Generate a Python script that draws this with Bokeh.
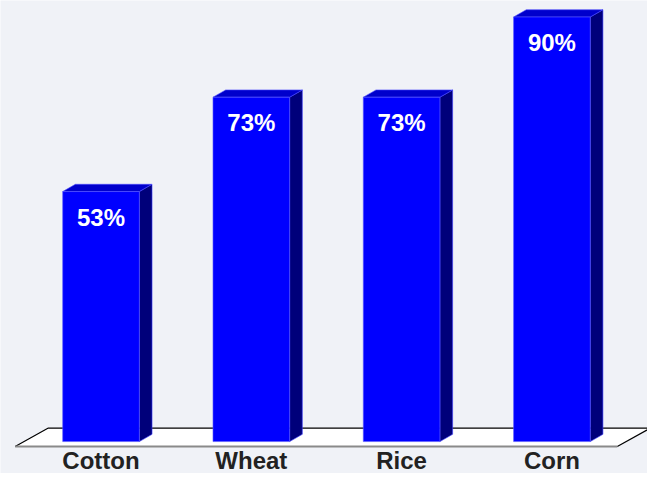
from bokeh.plotting import figure
from bokeh.models import Range1d, ColumnDataSource
from bokeh.embed import file_html
from bokeh.resources import INLINE
from bokeh.core.properties import value

# ---- data ----
categories = ["Cotton", "Wheat", "Rice", "Corn"]
values = [53, 73, 73, 90]
value_labels = ["53%", "73%", "73%", "90%"]

# ---- style / geometry ----
W, H = 647, 473
BAR_W = 0.51          # bar width in category units
DX = 0.0844           # 3D depth offset (x, category units)
DY = 1.54             # 3D depth offset (y, percent units)
BG = "#F0F2F7"
FRONT = "#0000FF"
TOP = "#0000CC"
SIDE = "#00007A"
FONT = value("Liberation Sans")

xs = list(range(len(categories)))

p = figure(width=W, height=H, output_backend="svg", toolbar_location=None,
           x_range=Range1d(-0.6688, 3.636), y_range=Range1d(-6.766, 93.50),
           min_border=0)
p.axis.visible = False
p.grid.visible = False
p.background_fill_color = BG
p.border_fill_color = BG
p.outline_line_color = None

# floor (parallelogram)
fx = [-0.5714, -0.3506, 3.656, 3.435]
fy = [-1.025, 2.871, 2.871, -1.025]
p.patch(fx, fy, fill_color="white", line_color=None)
p.line([fx[0], fx[1], fx[2]], [fy[0], fy[1], fy[2]], line_color="black", line_width=1.2)
p.line([fx[2], fx[3]], [fy[2], fy[3]], line_color="black", line_width=1.2)
p.line([fx[0], fx[3]], [fy[0], fy[3]], line_color="#8a8a8a", line_width=2)

# bars
side_xs, side_ys, top_xs, top_ys = [], [], [], []
for x, v in zip(xs, values):
    l, r = x - BAR_W / 2, x + BAR_W / 2
    side_xs.append([r, r + DX, r + DX, r])
    side_ys.append([0, DY, v + DY, v])
    top_xs.append([l, l + DX, r + DX, r])
    top_ys.append([v, v + DY, v + DY, v])

p.patches(side_xs, side_ys, fill_color=SIDE, line_color="#3a3aff", line_width=0.6)
p.patches(top_xs, top_ys, fill_color=TOP, line_color="#4a4aff", line_width=0.6)
p.vbar(x=xs, width=BAR_W, top=values, bottom=0, fill_color=FRONT,
       line_color="#5a5aff", line_width=0.6)

# value labels inside bars
src = ColumnDataSource(dict(x=xs, y=[v - 5.4 for v in values], t=value_labels))
p.text(x="x", y="y", text="t", source=src, text_font=FONT, text_font_style="bold",
       text_font_size="24px", text_color="white", text_align="center",
       text_baseline="alphabetic")

# category labels
csrc = ColumnDataSource(dict(x=xs, y=[-4.1] * len(xs), t=categories))
p.text(x="x", y="y", text="t", source=csrc, text_font=FONT, text_font_style="bold",
       text_font_size="24px", text_color="#222222", text_align="center",
       text_baseline="alphabetic")

open("out.html", "w").write(file_html(p, INLINE))
